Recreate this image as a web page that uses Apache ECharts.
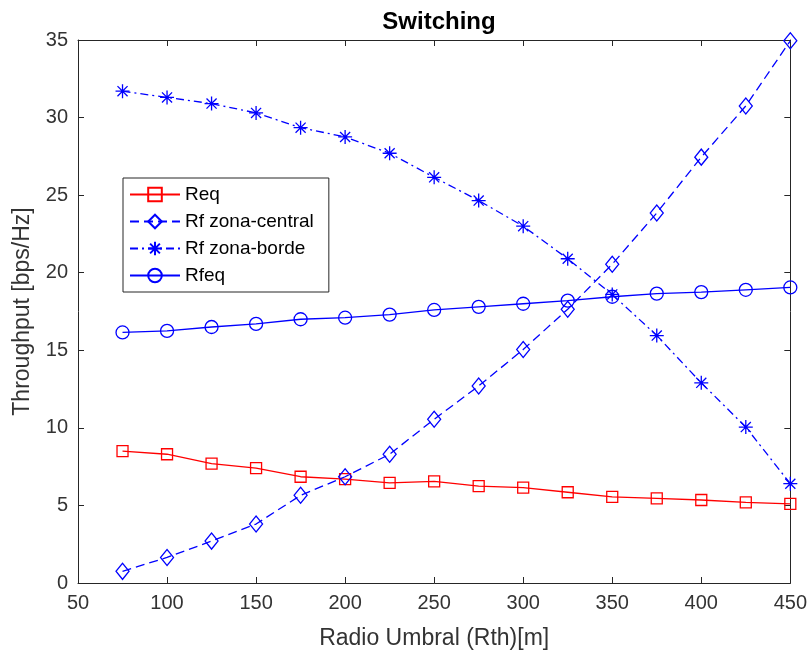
<!DOCTYPE html>
<html>
<head>
<meta charset="utf-8">
<script src="https://cdn.jsdelivr.net/npm/echarts@6/dist/echarts.min.js"></script>
<style>html,body{margin:0;padding:0;background:#fff;}#c{width:810px;height:655px;}</style>
</head>
<body>
<div id="c"></div>
<script>
const xValues = [75, 100, 125, 150, 175, 200, 225, 250, 275, 300, 325, 350, 375, 400, 425, 450];
const req = [8.5, 8.3, 7.7, 7.4, 6.85, 6.7, 6.45, 6.55, 6.25, 6.15, 5.85, 5.55, 5.45, 5.35, 5.2, 5.1];
const rfCentral = [0.75, 1.65, 2.7, 3.8, 5.65, 6.85, 8.3, 10.55, 12.7, 15.05, 17.65, 20.55, 23.85, 27.45, 30.75, 34.95];
const rfBorde = [31.7, 31.3, 30.9, 30.3, 29.35, 28.75, 27.7, 26.15, 24.65, 23.0, 20.9, 18.6, 15.95, 12.9, 10.05, 6.4];
const rfeq = [16.15, 16.25, 16.5, 16.7, 17.0, 17.1, 17.3, 17.6, 17.8, 18.0, 18.2, 18.45, 18.65, 18.75, 18.9, 19.05];
const seriesNames = ['Req', 'Rf zona-central', 'Rf zona-borde', 'Rfeq'];

const FONT = "'Liberation Sans', Arial, Helvetica, sans-serif";
const AX = '#262626';
const TXT = '#333333';
const pair = arr => xValues.map((x, i) => [x, arr[i]]);
const asterisk = 'path://M0,-1L0,1M-1,0L1,0M-0.72,-0.72L0.72,0.72M-0.72,0.72L0.72,-0.72';

function mk(name, data, color, symbol, size, dash) {
  return {
    name, type: 'line', data: pair(data), symbol, symbolSize: size,
    showAllSymbol: true, clip: false,
    lineStyle: { color, width: 1.3, type: dash },
    itemStyle: { color: 'rgba(0,0,0,0)', borderColor: color, borderWidth: 1.3 },
    emphasis: { disabled: true }
  };
}

const chart = echarts.init(document.getElementById('c'), null, { renderer: 'canvas' });
const axisCommon = {
  axisLine: { show: true, onZero: false, lineStyle: { color: AX, width: 1 } },
  axisTick: { show: true, inside: true, length: 6, lineStyle: { color: AX, width: 1 } },
  splitLine: { show: false }
};
chart.setOption({
  animation: false,
  backgroundColor: '#fff',
  title: {
    text: 'Switching', left: 434, top: 5, textAlign: 'center',
    textStyle: { fontFamily: FONT, fontSize: 24, fontWeight: 'bold', color: '#000' }
  },
  grid: { left: 78, right: 18, top: 40, bottom: 71 },
  legend: {
    orient: 'vertical', left: 123, top: 178,
    data: seriesNames,
    itemWidth: 50, itemHeight: 17, itemGap: 8, itemTextGap: 5,
    padding: [7, 15, 7, 6],
    borderColor: AX, borderWidth: 1, backgroundColor: '#fff',
    textStyle: { fontFamily: FONT, fontSize: 19, color: '#000' }
  },
  xAxis: [
    Object.assign({
      type: 'value', min: 50, max: 450, interval: 50,
      name: 'Radio Umbral (Rth)[m]', nameLocation: 'middle', nameGap: 44,
      nameTextStyle: { fontFamily: FONT, fontSize: 23, color: TXT },
      axisLabel: { fontFamily: FONT, fontSize: 20, color: TXT, margin: 10 }
    }, axisCommon),
    Object.assign({
      type: 'value', min: 50, max: 450, interval: 50, position: 'top',
      axisLabel: { show: false }
    }, axisCommon)
  ],
  yAxis: [
    Object.assign({
      type: 'value', min: 0, max: 35, interval: 5,
      name: 'Throughput [bps/Hz]', nameLocation: 'middle', nameGap: 44, nameRotate: 90,
      nameTextStyle: { fontFamily: FONT, fontSize: 23, color: TXT },
      axisLabel: { fontFamily: FONT, fontSize: 20, color: TXT, margin: 10 }
    }, axisCommon),
    Object.assign({
      type: 'value', min: 0, max: 35, interval: 5, position: 'right',
      axisLabel: { show: false }
    }, axisCommon)
  ],
  series: [
    mk(seriesNames[0], req, '#ff0000', 'rect', 11, 'solid'),
    mk(seriesNames[1], rfCentral, '#0000ff', 'diamond', [13, 16], [9, 5]),
    mk(seriesNames[2], rfBorde, '#0000ff', asterisk, 14, [8, 4, 2, 4]),
    mk(seriesNames[3], rfeq, '#0000ff', 'circle', 13, 'solid')
  ]
});
</script>
</body>
</html>
